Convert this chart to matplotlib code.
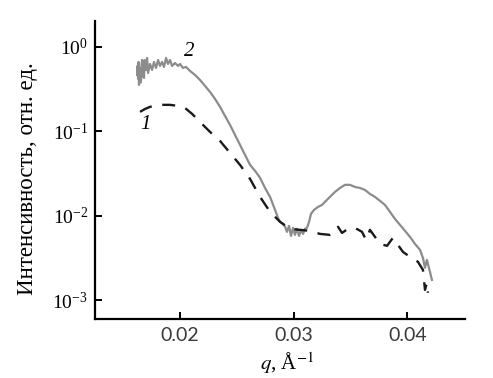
import numpy as np
import matplotlib
matplotlib.use('Agg')
import matplotlib.pyplot as plt

plt.rcParams['font.family'] = ['Liberation Serif', 'DejaVu Serif']
plt.rcParams['mathtext.fontset'] = 'stix'

# curve 2 (grey, solid)
q2 = [0.01622, 0.01627, 0.01631, 0.01635, 0.01639, 0.01644, 0.01648, 0.01653, 0.01657, 0.01662,
      0.01666, 0.01670, 0.01675, 0.01679, 0.01683, 0.01688, 0.01692, 0.01701,
      0.01710, 0.01719, 0.01736, 0.01754, 0.01771, 0.01789, 0.01807, 0.01824, 0.01842, 0.01859,
      0.01877, 0.01894, 0.01912, 0.01930, 0.01956, 0.01982, 0.02000, 0.02026, 0.02053, 0.02088,
      0.02132, 0.02176, 0.02220, 0.02264, 0.02308, 0.02352, 0.02396, 0.02440, 0.02484, 0.02528,
      0.02572, 0.02616, 0.02660, 0.02704, 0.02748, 0.02792, 0.02836, 0.02862, 0.02880, 0.02906,
      0.02924, 0.02941, 0.02959, 0.02976, 0.02994, 0.03011, 0.03029, 0.03047, 0.03064, 0.03082,
      0.03099, 0.03117, 0.03135, 0.03152, 0.03179, 0.03214, 0.03249, 0.03284, 0.03319, 0.03363,
      0.03407, 0.03451, 0.03495, 0.03539, 0.03583, 0.03627, 0.03671, 0.03715, 0.03759, 0.03803,
      0.03847, 0.03891, 0.03935, 0.03979, 0.04023, 0.04067, 0.04111, 0.04137, 0.04155, 0.04172,
      0.04190, 0.04216]
I2 = [0.466, 0.600, 0.420, 0.664, 0.355, 0.520, 0.564, 0.380, 0.406, 0.620,
      0.701, 0.450, 0.505, 0.560, 0.429, 0.700, 0.612, 0.534,
      0.741, 0.492, 0.629, 0.534, 0.664, 0.564, 0.701, 0.596, 0.664, 0.580,
      0.741, 0.629, 0.701, 0.596, 0.646, 0.596, 0.629, 0.564, 0.580, 0.519,
      0.466, 0.406, 0.345, 0.293, 0.242, 0.195, 0.152, 0.119, 0.0906, 0.069,
      0.0525, 0.040, 0.034, 0.0281, 0.0213, 0.0167, 0.0117, 0.00942, 0.00845, 0.00800,
      0.00737, 0.00643, 0.00757, 0.00576, 0.00717, 0.00592, 0.00698, 0.00576, 0.00679, 0.00608,
      0.00698, 0.00717, 0.00845, 0.0105, 0.0117, 0.0127, 0.0134, 0.0150, 0.0167, 0.0191,
      0.0213, 0.0232, 0.0232, 0.0219, 0.0213, 0.0202, 0.0181, 0.0167, 0.0150, 0.0134,
      0.0111, 0.00916, 0.00778, 0.00661, 0.00561, 0.00463, 0.00394, 0.00316, 0.00241, 0.00299,
      0.00241, 0.00173]

# curve 1 (black, dashed)
q1 = [0.01648, 0.01692, 0.01736, 0.01824, 0.01912, 0.01982, 0.02044, 0.02106, 0.02176, 0.02264,
      0.02352, 0.02440, 0.02528, 0.02616, 0.02704, 0.02792, 0.02880, 0.02968, 0.03055, 0.03143,
      0.03231, 0.03319, 0.03363, 0.03390, 0.03425, 0.03478, 0.03539, 0.03601, 0.03636, 0.03671,
      0.03715, 0.03759, 0.03821, 0.03873, 0.03917, 0.03961, 0.04023, 0.04093, 0.04137, 0.04155,
      0.04172, 0.04181]
I1 = [0.170, 0.184, 0.195, 0.206, 0.206, 0.200, 0.189, 0.161, 0.129, 0.0984,
      0.0769, 0.0554, 0.040, 0.0273, 0.0167, 0.0111, 0.00845, 0.00698, 0.00679, 0.00661,
      0.00608, 0.00592, 0.00643, 0.00737, 0.00625, 0.00698, 0.00717, 0.00643, 0.00517, 0.00679,
      0.00561, 0.00463, 0.00439, 0.00546, 0.00451, 0.00372, 0.00325, 0.00284, 0.00228, 0.00132,
      0.00160, 0.00122]

xticks = [0.02, 0.03, 0.04]
xticklabels = ['0.02', '0.03', '0.04']

fig = plt.figure(figsize=(4.93, 3.78), dpi=100)
ax = fig.add_axes([0.1927, 0.1561, 0.7505, 0.7883])

ax.plot(q2, I2, color='#8c8c8c', lw=1.6)
ax.plot(q1, I1, color='#1a1a1a', lw=1.7, dashes=(5.5, 4.5))

ax.set_yscale('log')
ax.set_xlim(0.01252, 0.04507)
ax.set_ylim(5.96e-4, 2.03)
ax.set_yticks([1e-3, 1e-2, 1e-1, 1e0])
ax.yaxis.set_minor_locator(matplotlib.ticker.NullLocator())
ax.set_xticks(xticks)
ax.set_xticklabels(xticklabels, fontfamily='Lato', fontsize=13, color='#3a3a3a')

for s in ['top', 'right']:
    ax.spines[s].set_visible(False)
for s in ['left', 'bottom']:
    ax.spines[s].set_linewidth(1.6)
ax.tick_params(direction='in', length=5, width=1.4, labelsize=14, pad=5)
ax.tick_params(axis='x', pad=6)

ax.text(0.01692, 0.120, '1', fontsize=15, style='italic', ha='center', va='center')
ax.text(0.02079, 0.873, '2', fontsize=15, style='italic', ha='center', va='center')

ax.set_ylabel('Интенсивность, отн. ед.', fontsize=16.5)
ax.yaxis.set_label_coords(-0.155, 0.47)
ax.set_xlabel(r'$q$, Å$^{-1}$', fontsize=15)
ax.xaxis.set_label_coords(0.52, -0.105)

fig.savefig('out.png', dpi=100)
